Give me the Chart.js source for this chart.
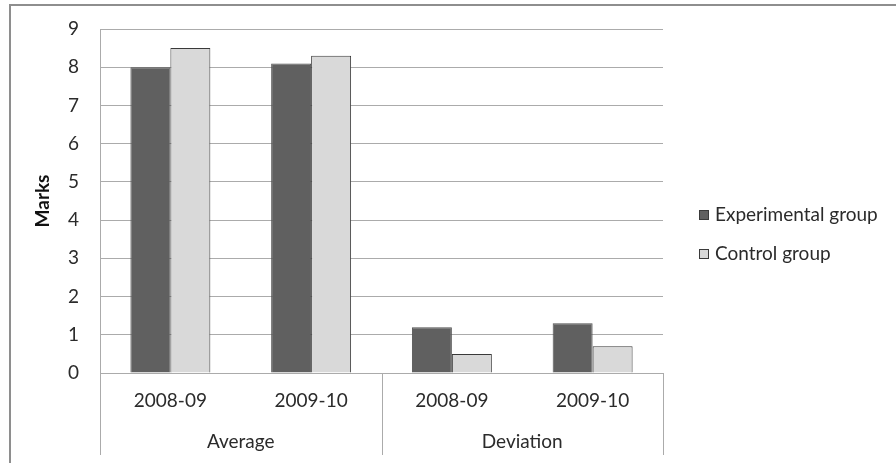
<!DOCTYPE html>
<html>
<head>
<meta charset="utf-8">
<script src="https://cdn.jsdelivr.net/npm/chart.js@4/dist/chart.umd.min.js"></script>
<style>
  html, body { margin: 0; padding: 0; background: #fff; }
  #wrap { width: 896px; height: 463px; position: relative; }
</style>
</head>
<body>
<div id="wrap"><canvas id="c" width="896" height="463"></canvas></div>
<script>
// Marks of the two groups, by school year, for the average and the deviation
const years = ['2008-09', '2009-10', '2008-09', '2009-10'];
const groups = ['Average', 'Deviation'];
const groupSize = 2;
const experimental = [8.0, 8.1, 1.2, 1.3];
const control = [8.5, 8.3, 0.5, 0.7];
const yTicks = [0, 1, 2, 3, 4, 5, 6, 7, 8, 9];

const FONT = 'Lato, "Open Sans", sans-serif';
const SIZE = 19;
const TEXT = '#2b2b2b';
const GRID = '#ababab';

// Frame, multi-level category axis and legend drawn around the plot
const decor = {
  id: 'decor',
  beforeDraw(chart) {
    const ctx = chart.ctx;
    ctx.save();
    ctx.fillStyle = '#fff';
    ctx.fillRect(0, 0, chart.width, chart.height);
    ctx.strokeStyle = '#8e8e8e';
    ctx.lineWidth = 2;
    ctx.beginPath();
    ctx.moveTo(10, chart.height + 5);
    ctx.lineTo(10, 5);
    ctx.lineTo(chart.width + 5, 5);
    ctx.stroke();
    ctx.restore();
  },
  afterDraw(chart) {
    const ctx = chart.ctx;
    const x = chart.scales.x;
    const area = chart.chartArea;
    const bottom = area.bottom + 82;
    const n = years.length;
    const step = (x.right - x.left) / n;
    ctx.save();
    ctx.strokeStyle = GRID;
    ctx.lineWidth = 1;
    // separators between the outer categories
    for (let i = 0; i <= n; i += groupSize) {
      const px = Math.round(x.left + i * step) + 0.5;
      ctx.beginPath();
      ctx.moveTo(px, area.bottom);
      ctx.lineTo(px, bottom);
      ctx.stroke();
    }
    // outer category labels
    ctx.fillStyle = TEXT;
    ctx.font = SIZE + 'px ' + FONT;
    ctx.textAlign = 'center';
    ctx.textBaseline = 'middle';
    groups.forEach((g, gi) => {
      const a = x.getPixelForValue(gi * groupSize);
      const b = x.getPixelForValue(gi * groupSize + groupSize - 1);
      ctx.fillText(g, (a + b) / 2, area.bottom + 69);
    });
    // legend
    const ly = [215, 254];
    chart.data.datasets.forEach((ds, i) => {
      ctx.fillStyle = ds.backgroundColor;
      ctx.fillRect(699, ly[i] - 5, 10, 10);
      ctx.strokeStyle = '#3a3a3a';
      ctx.lineWidth = 1;
      ctx.strokeRect(699.5, ly[i] - 4.5, 9, 9);
      ctx.fillStyle = TEXT;
      ctx.textAlign = 'left';
      ctx.fillText(ds.label, 715, ly[i]);
    });
    ctx.restore();
  }
};

new Chart(document.getElementById('c'), {
  type: 'bar',
  data: {
    labels: years,
    datasets: [
      { label: 'Experimental group', data: experimental, backgroundColor: '#606060', borderColor: '#505050', borderWidth: 1 },
      { label: 'Control group', data: control, backgroundColor: '#d9d9d9', borderColor: '#3a3a3a', borderWidth: 1 }
    ]
  },
  options: {
    responsive: false,
    animation: false,
    devicePixelRatio: 1,
    layout: { padding: { left: 0, top: 29, right: 233, bottom: 0 } },
    datasets: { bar: { barPercentage: 1, categoryPercentage: 0.568 } },
    plugins: { legend: { display: false }, tooltip: { enabled: false } },
    scales: {
      x: {
        grid: { display: false },
        border: { display: true, color: GRID },
        ticks: { color: TEXT, font: { family: FONT, size: SIZE }, padding: 8, maxRotation: 0 },
        afterFit(s) { s.height = 90; }
      },
      y: {
        min: 0, max: 9,
        afterBuildTicks(s) { s.ticks = yTicks.map(v => ({ value: v })); },
        grid: { color: GRID, drawTicks: false },
        border: { display: true, color: GRID },
        ticks: { color: TEXT, font: { family: FONT, size: SIZE }, padding: 21 },
        title: { display: true, text: 'Marks', color: '#111', font: { family: FONT, size: SIZE, weight: 'bold' }, padding: { top: 31, bottom: 0 } },
        afterFit(s) { s.width = 100; s.paddingTop = 0; s.paddingBottom = 0; }
      }
    }
  },
  plugins: [decor]
});
</script>
</body>
</html>
